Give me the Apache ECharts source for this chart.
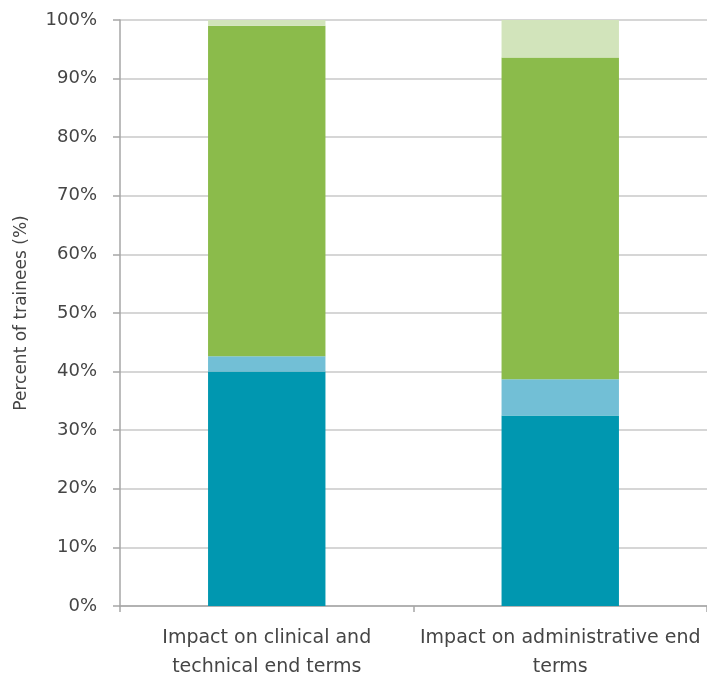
<!DOCTYPE html>
<html>
<head>
<meta charset="utf-8">
<script src="https://cdn.jsdelivr.net/npm/echarts@6/dist/echarts.min.js"></script>
<style>
html,body{margin:0;padding:0;background:#fff;}
#chart{width:707px;height:682px;}
</style>
</head>
<body>
<div id="chart"></div>
<script>
var categories = ["Impact on clinical and\ntechnical end terms", "Impact on administrative end\nterms"];
var tealValues = [40, 32.5];
var lightBlueValues = [2.6, 6.2];
var greenValues = [56.4, 54.9];
var lightGreenValues = [1.0, 6.4];
var yTicks = [0, 10, 20, 30, 40, 50, 60, 70, 80, 90, 100];

var font = "'DejaVu Sans', sans-serif";
var chart = echarts.init(document.getElementById('chart'));
function mk(name, data, color) {
  return {name: name, type: 'bar', stack: 'total', data: data, barWidth: '40%',
    itemStyle: {color: color}, emphasis: {disabled: true}};
}
chart.setOption({
  animation: false,
  grid: {left: 120, right: -1, top: 20, bottom: 75, containLabel: false},
  xAxis: {
    type: 'category', data: categories,
    axisLine: {lineStyle: {color: '#a6a6a6', width: 1.5}},
    axisTick: {show: true, alignWithLabel: false, length: 6, lineStyle: {color: '#a6a6a6', width: 1.5}},
    axisLabel: {interval: 0, margin: 18, color: '#454545', fontFamily: font, fontSize: 19, lineHeight: 29}
  },
  yAxis: {
    type: 'value', min: yTicks[0], max: yTicks[yTicks.length - 1], interval: 10,
    name: 'Percent of trainees (%)', nameLocation: 'middle', nameGap: 90,
    nameTextStyle: {color: '#454545', fontFamily: font, fontSize: 17},
    axisLine: {show: true, lineStyle: {color: '#a6a6a6', width: 1.5}},
    axisTick: {show: true, length: 7, lineStyle: {color: '#a6a6a6', width: 1.5}},
    splitLine: {lineStyle: {color: '#c8c8c8', width: 1.5}},
    axisLabel: {margin: 23, color: '#454545', fontFamily: font, fontSize: 18, formatter: '{value}%'}
  },
  series: [
    mk('Teal', tealValues, '#0097b0'),
    mk('Light blue', lightBlueValues, '#72bfd6'),
    mk('Green', greenValues, '#8bbb4b'),
    mk('Light green', lightGreenValues, '#d2e4bb')
  ]
});
</script>
</body>
</html>
